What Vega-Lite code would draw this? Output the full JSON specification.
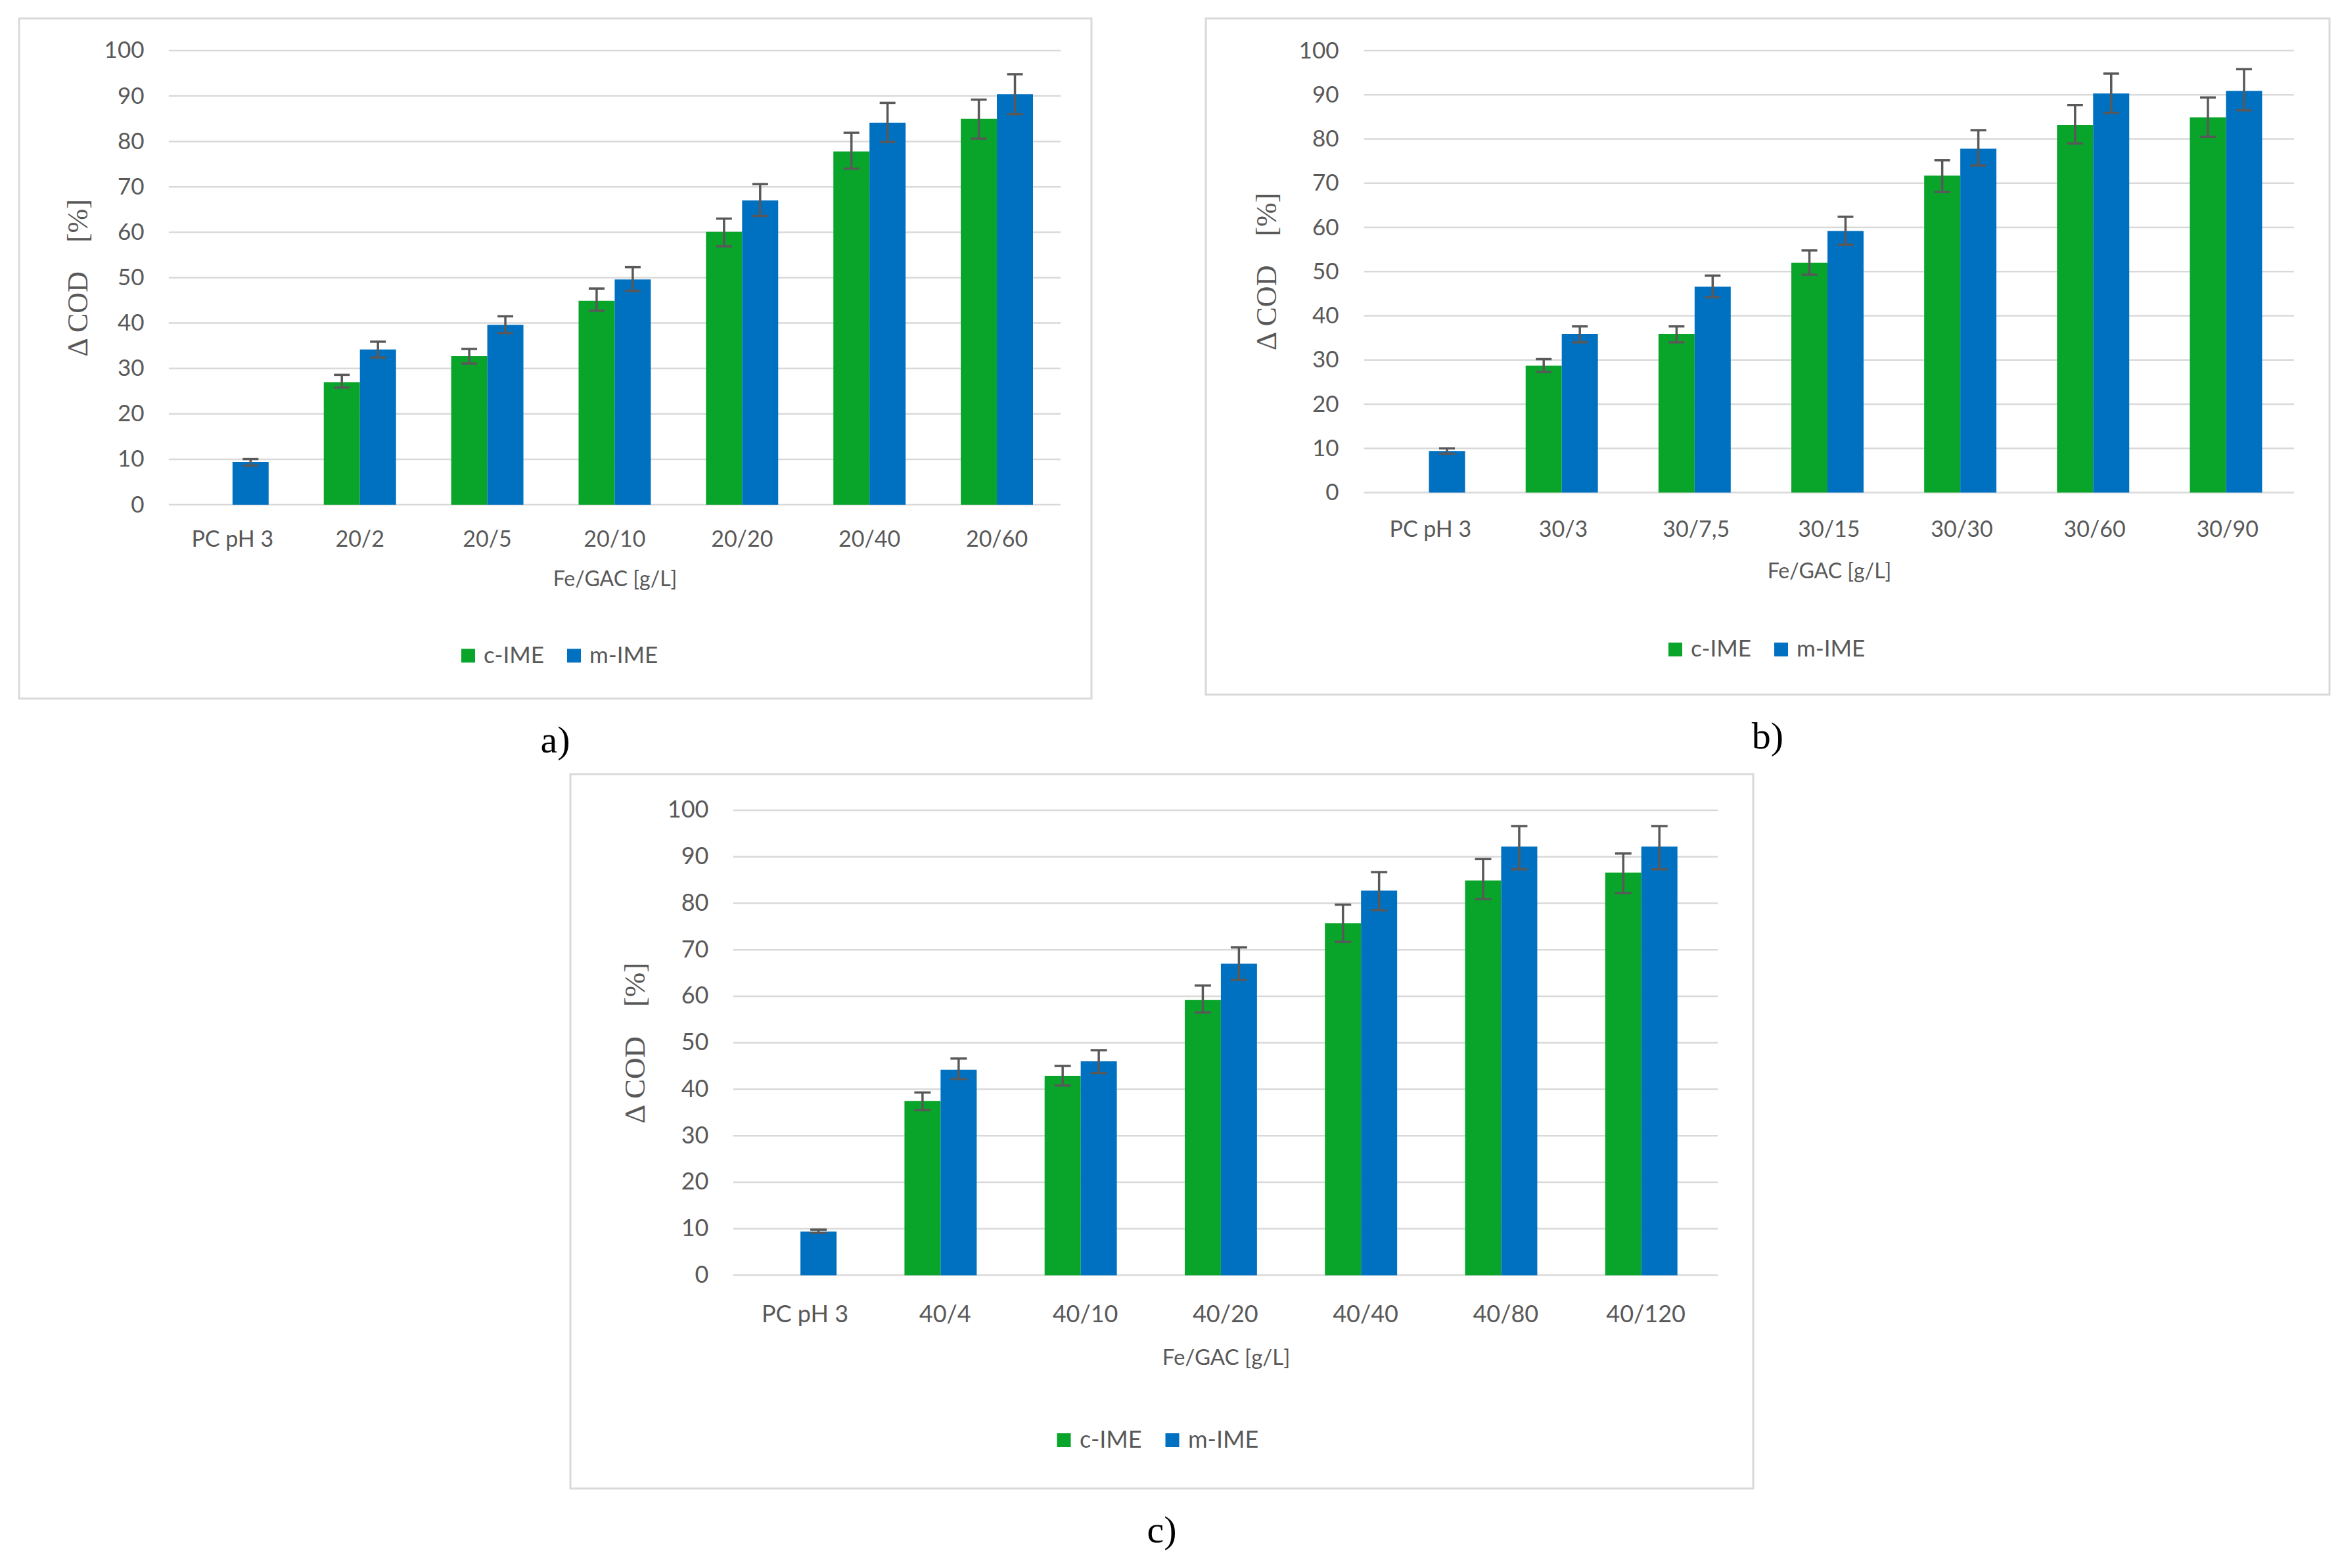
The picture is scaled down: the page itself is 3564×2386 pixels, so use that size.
{
  "$schema": "https://vega.github.io/schema/vega-lite/v6.json",
  "background": "white",
  "padding": {"left": 27, "top": 26, "right": 0, "bottom": 0},
  "datasets": {
    "grid": [{"v": 0}, {"v": 10}, {"v": 20}, {"v": 30}, {"v": 40}, {"v": 50}, {"v": 60}, {"v": 70}, {"v": 80}, {"v": 90}, {"v": 100}],
    "a": [
      {"cat": "PC pH 3", "series": "m-IME", "value": 9.4, "lo": 8.6, "hi": 10.05},
      {"cat": "20/2", "series": "c-IME", "value": 27.0, "lo": 25.8, "hi": 28.6},
      {"cat": "20/2", "series": "m-IME", "value": 34.2, "lo": 32.4, "hi": 35.9},
      {"cat": "20/5", "series": "c-IME", "value": 32.7, "lo": 31.1, "hi": 34.3},
      {"cat": "20/5", "series": "m-IME", "value": 39.6, "lo": 37.8, "hi": 41.5},
      {"cat": "20/10", "series": "c-IME", "value": 44.9, "lo": 42.7, "hi": 47.6},
      {"cat": "20/10", "series": "m-IME", "value": 49.6, "lo": 47.1, "hi": 52.3},
      {"cat": "20/20", "series": "c-IME", "value": 60.1, "lo": 56.9, "hi": 63.0},
      {"cat": "20/20", "series": "m-IME", "value": 67.0, "lo": 63.6, "hi": 70.6},
      {"cat": "20/40", "series": "c-IME", "value": 77.8, "lo": 74.0, "hi": 81.9},
      {"cat": "20/40", "series": "m-IME", "value": 84.1, "lo": 79.9, "hi": 88.5},
      {"cat": "20/60", "series": "c-IME", "value": 85.0, "lo": 80.6, "hi": 89.2},
      {"cat": "20/60", "series": "m-IME", "value": 90.4, "lo": 86.0, "hi": 94.8}
    ],
    "b": [
      {"cat": "PC pH 3", "series": "m-IME", "value": 9.4, "lo": 8.8, "hi": 10.0},
      {"cat": "30/3", "series": "c-IME", "value": 28.7, "lo": 27.3, "hi": 30.2},
      {"cat": "30/3", "series": "m-IME", "value": 35.9, "lo": 34.0, "hi": 37.6},
      {"cat": "30/7,5", "series": "c-IME", "value": 35.9, "lo": 34.0, "hi": 37.6},
      {"cat": "30/7,5", "series": "m-IME", "value": 46.6, "lo": 44.2, "hi": 49.1},
      {"cat": "30/15", "series": "c-IME", "value": 52.0, "lo": 49.3, "hi": 54.8},
      {"cat": "30/15", "series": "m-IME", "value": 59.2, "lo": 56.1, "hi": 62.4},
      {"cat": "30/30", "series": "c-IME", "value": 71.7, "lo": 68.0, "hi": 75.2},
      {"cat": "30/30", "series": "m-IME", "value": 77.8, "lo": 74.0, "hi": 82.0},
      {"cat": "30/60", "series": "c-IME", "value": 83.2, "lo": 79.0, "hi": 87.7},
      {"cat": "30/60", "series": "m-IME", "value": 90.3, "lo": 85.9, "hi": 94.8},
      {"cat": "30/90", "series": "c-IME", "value": 84.9, "lo": 80.5, "hi": 89.4},
      {"cat": "30/90", "series": "m-IME", "value": 90.9, "lo": 86.5, "hi": 95.8}
    ],
    "c": [
      {"cat": "PC pH 3", "series": "m-IME", "value": 9.4, "lo": 9.1, "hi": 9.8},
      {"cat": "40/4", "series": "c-IME", "value": 37.5, "lo": 35.5, "hi": 39.3},
      {"cat": "40/4", "series": "m-IME", "value": 44.2, "lo": 42.2, "hi": 46.6},
      {"cat": "40/10", "series": "c-IME", "value": 42.9, "lo": 40.8, "hi": 45.0},
      {"cat": "40/10", "series": "m-IME", "value": 46.0, "lo": 43.5, "hi": 48.4},
      {"cat": "40/20", "series": "c-IME", "value": 59.2, "lo": 56.5, "hi": 62.3},
      {"cat": "40/20", "series": "m-IME", "value": 67.0, "lo": 63.5, "hi": 70.5},
      {"cat": "40/40", "series": "c-IME", "value": 75.7, "lo": 71.7, "hi": 79.7},
      {"cat": "40/40", "series": "m-IME", "value": 82.7, "lo": 78.5, "hi": 86.7},
      {"cat": "40/80", "series": "c-IME", "value": 84.9, "lo": 80.9, "hi": 89.5},
      {"cat": "40/80", "series": "m-IME", "value": 92.2, "lo": 87.3, "hi": 96.6},
      {"cat": "40/120", "series": "c-IME", "value": 86.6, "lo": 82.2, "hi": 90.7},
      {"cat": "40/120", "series": "m-IME", "value": 92.2, "lo": 87.3, "hi": 96.6}
    ]
  },
  "config": {
    "view": {"stroke": "#d9d9d9", "strokeWidth": 3},
    "font": "Lato",
    "axis": {"labelFont": "Lato", "labelColor": "#595959", "titleColor": "#595959", "titleFontWeight": "normal"},
    "legend": {"labelFont": "Lato", "labelColor": "#595959"},
    "title": {"font": "Liberation Serif", "fontSize": 58, "fontWeight": "normal", "color": "black", "orient": "bottom", "offset": 36, "anchor": "middle"}
  },
  "spacing": 17,
  "resolve": {"scale": {"color": "independent"}, "legend": {"color": "independent"}},
  "vconcat": [
    {
      "spacing": 170,
      "resolve": {"scale": {"color": "independent"}, "legend": {"color": "independent"}},
      "hconcat": [
        {
          "width": 1632,
          "height": 1035,
          "title": {"text": "a)"},
          "layer": [
            {
              "data": {"name": "grid"},
              "mark": {"type": "rule", "color": "#d9d9d9", "strokeWidth": 2.5},
              "encoding": {
                "y": {"field": "v", "type": "quantitative"},
                "x": {"datum": "PC pH 3", "type": "nominal", "bandPosition": -0.382},
                "x2": {"datum": "20/60", "bandPosition": 1.382}
              }
            },
            {
              "data": {"name": "a"},
              "mark": {"type": "bar"},
              "encoding": {
                "x": {"field": "cat", "type": "nominal",
                  "scale": {"domain": ["PC pH 3", "20/2", "20/5", "20/10", "20/20", "20/40", "20/60"], "paddingInner": 0.433, "paddingOuter": 0.9255, "align": 0.752},
                  "axis": {"orient": "bottom", "offset": -295, "bandPosition": 0.5, "domain": false, "ticks": false, "grid": false, "labelAngle": 0, "labelAlign": "center", "labelBaseline": "middle", "labelPadding": 53, "labelFontSize": 34, "title": "Fe/GAC [g/L]", "titleFontSize": 32, "titleX": 906.5, "titleY": 113, "titleBaseline": "middle"}},
                "xOffset": {"field": "series", "type": "nominal", "scale": {"domain": ["c-IME", "m-IME"], "paddingInner": 0, "paddingOuter": 0}},
                "y": {"field": "value", "type": "quantitative",
                  "scale": {"domain": [-42.69, 107.09], "nice": false, "zero": false},
                  "axis": {"values": [0, 10, 20, 30, 40, 50, 60, 70, 80, 90, 100], "offset": -228, "domain": false, "ticks": false, "grid": false, "labelPadding": 38, "labelFontSize": 35, "title": "Δ COD\u00a0\u00a0\u00a0\u00a0[%]", "titleFont": "Liberation Serif", "titleFontSize": 44, "titleX": -138, "titleY": 394.5, "titleBaseline": "middle"}},
                "color": {"field": "series", "type": "nominal",
                  "scale": {"domain": ["c-IME", "m-IME"], "range": ["#09a42a", "#0070c0"]},
                  "legend": {"orient": "none", "legendX": 666, "legendY": 952, "direction": "horizontal", "title": null, "symbolType": "square", "symbolSize": 441, "symbolStrokeWidth": 0, "labelFontSize": 35, "columnPadding": 28, "labelOffset": 6}}
              }
            },
            {
              "data": {"name": "a"},
              "mark": {"type": "rule", "color": "#595959", "strokeWidth": 3.5},
              "encoding": {
                "x": {"field": "cat", "type": "nominal"},
                "xOffset": {"field": "series", "type": "nominal"},
                "y": {"field": "lo", "type": "quantitative"},
                "y2": {"field": "hi"}
              }
            },
            {
              "data": {"name": "a"},
              "mark": {"type": "tick", "color": "#595959", "thickness": 3.5, "size": 24, "opacity": 1},
              "encoding": {
                "x": {"field": "cat", "type": "nominal"},
                "xOffset": {"field": "series", "type": "nominal"},
                "y": {"field": "lo", "type": "quantitative"}
              }
            },
            {
              "data": {"name": "a"},
              "mark": {"type": "tick", "color": "#595959", "thickness": 3.5, "size": 24, "opacity": 1},
              "encoding": {
                "x": {"field": "cat", "type": "nominal"},
                "xOffset": {"field": "series", "type": "nominal"},
                "y": {"field": "hi", "type": "quantitative"}
              }
            }
          ]
        },
        {
          "width": 1710,
          "height": 1029,
          "title": {"text": "b)"},
          "layer": [
            {
              "data": {"name": "grid"},
              "mark": {"type": "rule", "color": "#d9d9d9", "strokeWidth": 2.5},
              "encoding": {
                "y": {"field": "v", "type": "quantitative"},
                "x": {"datum": "PC pH 3", "type": "nominal", "bandPosition": -0.382},
                "x2": {"datum": "30/90", "bandPosition": 1.382}
              }
            },
            {
              "data": {"name": "b"},
              "mark": {"type": "bar"},
              "encoding": {
                "x": {"field": "cat", "type": "nominal",
                  "scale": {"domain": ["PC pH 3", "30/3", "30/7,5", "30/15", "30/30", "30/60", "30/90"], "paddingInner": 0.433, "paddingOuter": 0.946, "align": 0.744},
                  "axis": {"orient": "bottom", "offset": -307.5, "bandPosition": 0.5, "domain": false, "ticks": false, "grid": false, "labelAngle": 0, "labelAlign": "center", "labelBaseline": "middle", "labelPadding": 56.5, "labelFontSize": 34, "title": "Fe/GAC [g/L]", "titleFontSize": 32, "titleX": 948.5, "titleY": 119.5, "titleBaseline": "middle"}},
                "xOffset": {"field": "series", "type": "nominal", "scale": {"domain": ["c-IME", "m-IME"], "paddingInner": 0, "paddingOuter": 0}},
                "y": {"field": "value", "type": "quantitative",
                  "scale": {"domain": [-45.72, 107.29], "nice": false, "zero": false},
                  "axis": {"values": [0, 10, 20, 30, 40, 50, 60, 70, 80, 90, 100], "offset": -241, "domain": false, "ticks": false, "grid": false, "labelPadding": 39, "labelFontSize": 35, "title": "Δ COD\u00a0\u00a0\u00a0\u00a0[%]", "titleFont": "Liberation Serif", "titleFontSize": 44, "titleX": -148, "titleY": 385, "titleBaseline": "middle"}},
                "color": {"field": "series", "type": "nominal",
                  "scale": {"domain": ["c-IME", "m-IME"], "range": ["#09a42a", "#0070c0"]},
                  "legend": {"orient": "none", "legendX": 697, "legendY": 942.5, "direction": "horizontal", "title": null, "symbolType": "square", "symbolSize": 441, "symbolStrokeWidth": 0, "labelFontSize": 35, "columnPadding": 28, "labelOffset": 6}}
              }
            },
            {
              "data": {"name": "b"},
              "mark": {"type": "rule", "color": "#595959", "strokeWidth": 3.5},
              "encoding": {
                "x": {"field": "cat", "type": "nominal"},
                "xOffset": {"field": "series", "type": "nominal"},
                "y": {"field": "lo", "type": "quantitative"},
                "y2": {"field": "hi"}
              }
            },
            {
              "data": {"name": "b"},
              "mark": {"type": "tick", "color": "#595959", "thickness": 3.5, "size": 24, "opacity": 1},
              "encoding": {
                "x": {"field": "cat", "type": "nominal"},
                "xOffset": {"field": "series", "type": "nominal"},
                "y": {"field": "lo", "type": "quantitative"}
              }
            },
            {
              "data": {"name": "b"},
              "mark": {"type": "tick", "color": "#595959", "thickness": 3.5, "size": 24, "opacity": 1},
              "encoding": {
                "x": {"field": "cat", "type": "nominal"},
                "xOffset": {"field": "series", "type": "nominal"},
                "y": {"field": "hi", "type": "quantitative"}
              }
            }
          ]
        }
      ]
    },
    {
      "spacing": 0,
      "resolve": {"scale": {"color": "independent"}, "legend": {"color": "independent"}},
      "hconcat": [
        {
          "width": 837,
          "height": 10,
          "view": {"stroke": null},
          "data": {"values": []},
          "mark": {"type": "point"},
          "encoding": {}
        },
        {
          "width": 1800,
          "height": 1087,
          "title": {"text": "c)"},
          "layer": [
            {
              "data": {"name": "grid"},
              "mark": {"type": "rule", "color": "#d9d9d9", "strokeWidth": 2.5},
              "encoding": {
                "y": {"field": "v", "type": "quantitative"},
                "x": {"datum": "PC pH 3", "type": "nominal", "bandPosition": -0.385},
                "x2": {"datum": "40/120", "bandPosition": 1.385}
              }
            },
            {
              "data": {"name": "c"},
              "mark": {"type": "bar"},
              "encoding": {
                "x": {"field": "cat", "type": "nominal",
                  "scale": {"domain": ["PC pH 3", "40/4", "40/10", "40/20", "40/40", "40/80", "40/120"], "paddingInner": 0.42, "paddingOuter": 0.93, "align": 0.744},
                  "axis": {"orient": "bottom", "offset": -324.5, "bandPosition": 0.5, "domain": false, "ticks": false, "grid": false, "labelAngle": 0, "labelAlign": "center", "labelBaseline": "middle", "labelPadding": 59.5, "labelFontSize": 36, "title": "Fe/GAC [g/L]", "titleFontSize": 33, "titleX": 997.5, "titleY": 125.5, "titleBaseline": "middle"}},
                "xOffset": {"field": "series", "type": "nominal", "scale": {"domain": ["c-IME", "m-IME"], "paddingInner": 0, "paddingOuter": 0}},
                "y": {"field": "value", "type": "quantitative",
                  "scale": {"domain": [-45.87, 107.77], "nice": false, "zero": false},
                  "axis": {"values": [0, 10, 20, 30, 40, 50, 60, 70, 80, 90, 100], "offset": -251, "domain": false, "ticks": false, "grid": false, "labelPadding": 41, "labelFontSize": 36, "title": "Δ COD\u00a0\u00a0\u00a0\u00a0[%]", "titleFont": "Liberation Serif", "titleFontSize": 45, "titleX": -153, "titleY": 408.75, "titleBaseline": "middle"}},
                "color": {"field": "series", "type": "nominal",
                  "scale": {"domain": ["c-IME", "m-IME"], "range": ["#09a42a", "#0070c0"]},
                  "legend": {"orient": "none", "legendX": 733, "legendY": 995.5, "direction": "horizontal", "title": null, "symbolType": "square", "symbolSize": 441, "symbolStrokeWidth": 0, "labelFontSize": 36, "columnPadding": 28, "labelOffset": 6}}
              }
            },
            {
              "data": {"name": "c"},
              "mark": {"type": "rule", "color": "#595959", "strokeWidth": 3.5},
              "encoding": {
                "x": {"field": "cat", "type": "nominal"},
                "xOffset": {"field": "series", "type": "nominal"},
                "y": {"field": "lo", "type": "quantitative"},
                "y2": {"field": "hi"}
              }
            },
            {
              "data": {"name": "c"},
              "mark": {"type": "tick", "color": "#595959", "thickness": 3.5, "size": 25, "opacity": 1},
              "encoding": {
                "x": {"field": "cat", "type": "nominal"},
                "xOffset": {"field": "series", "type": "nominal"},
                "y": {"field": "lo", "type": "quantitative"}
              }
            },
            {
              "data": {"name": "c"},
              "mark": {"type": "tick", "color": "#595959", "thickness": 3.5, "size": 25, "opacity": 1},
              "encoding": {
                "x": {"field": "cat", "type": "nominal"},
                "xOffset": {"field": "series", "type": "nominal"},
                "y": {"field": "hi", "type": "quantitative"}
              }
            }
          ]
        }
      ]
    }
  ]
}
